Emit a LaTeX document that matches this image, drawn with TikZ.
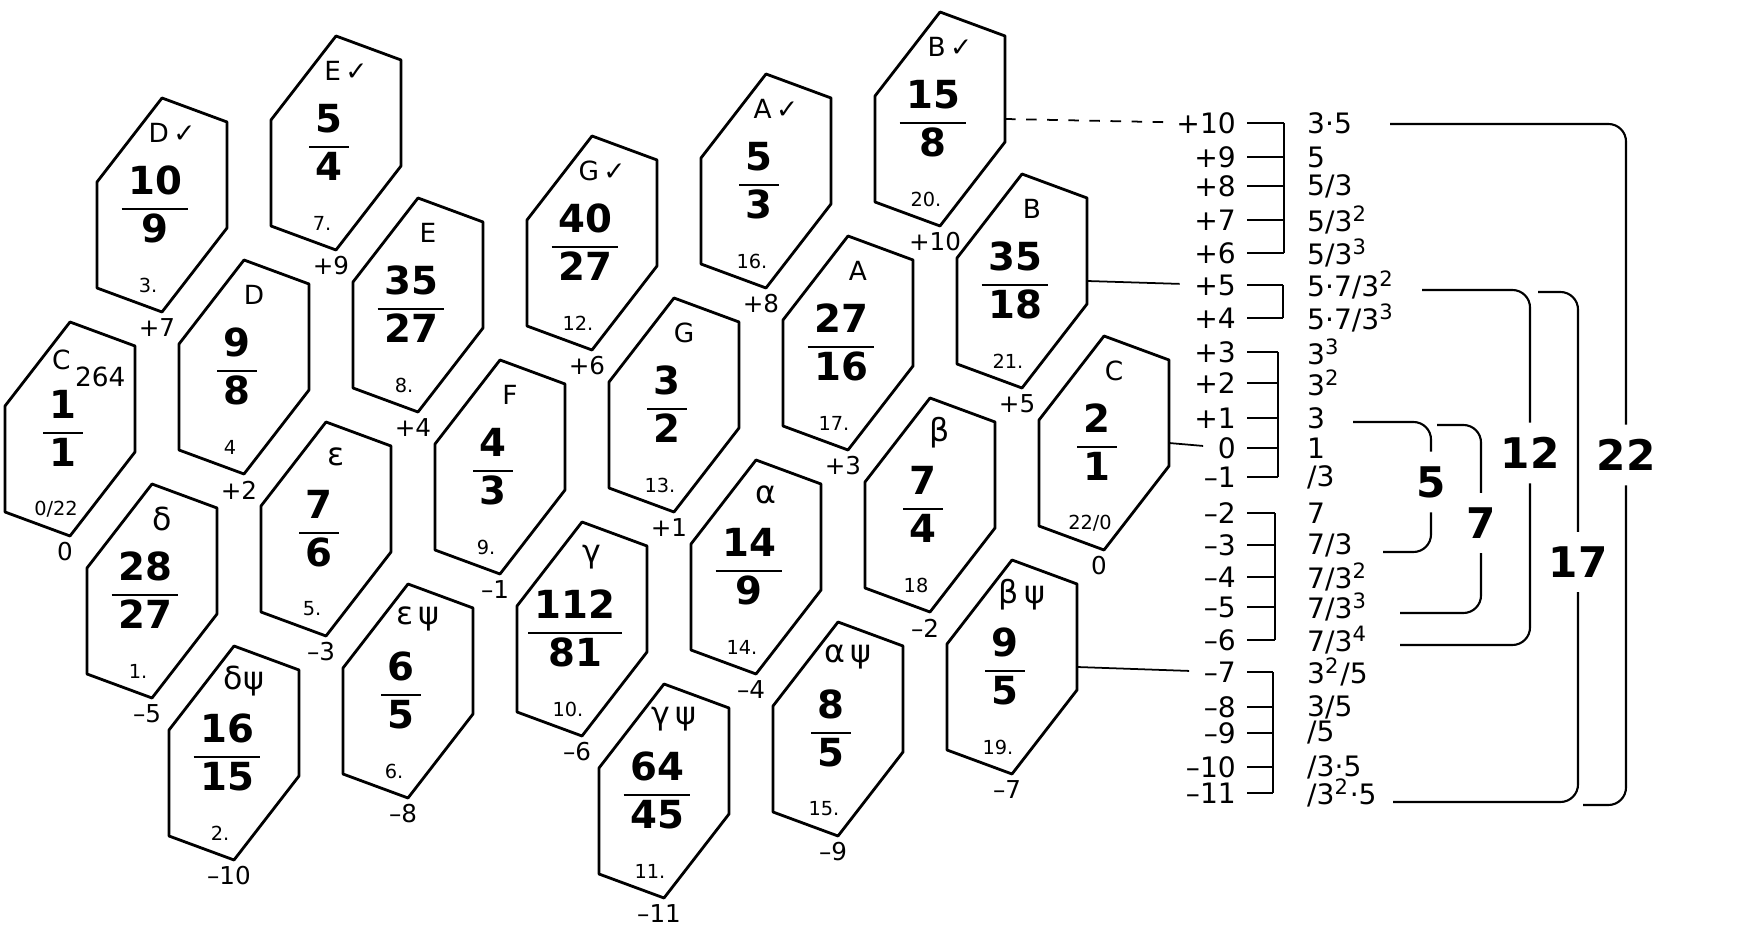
\documentclass[tikz,border=0pt]{standalone}
\usepackage{amsmath}
\usepackage{fontspec}
\setmainfont{DejaVu Sans}
\usepackage{tikz}
\setlength{\arrayrulewidth}{0.6pt}

\begin{document}
\begin{tikzpicture}[x=0.01cm, y=-0.01cm, line join=round,
    cell/.style={line width=0.8pt},
    toplab/.style={font=\fontsize{7.5}{8}\selectfont, inner sep=1pt},
    ratio/.style={font=\fontsize{11}{13}\selectfont\bfseries, inner sep=0pt},
    idxlab/.style={font=\fontsize{5.5}{6}\selectfont, inner sep=1pt},
    ticklab/.style={font=\fontsize{7}{8}\selectfont, inner sep=1pt},
    rowlab/.style={font=\fontsize{8}{9}\selectfont, inner sep=1pt},
    stub/.style={line width=0.6pt},
    leader/.style={line width=0.5pt},
    bigcount/.style={font=\fontsize{12}{14}\selectfont\bfseries, inner sep=4pt},
    brk/.style={line width=0.6pt, rounded corners=5pt}]
	\useasboundingbox (0,0) rectangle (1749,925);
	% the hexagon cells: number/column/row/name/ratio/index/step
	\foreach \hk/\col/\row/\lab/\num/\den/\idx/\tk in {
	    0/0/0/{\hspace{5pt}\rule{0pt}{12pt}C\,\raisebox{-5pt}{264}}/1/1/{0/22}/0,
	    1/0/1/{\fontsize{9}{10}\selectfont δ}/28/27/1./--5,
	    2/0/2/{\fontsize{9}{10}\selectfont δψ}/16/15/2./--10,
	    3/1/-1/{D\,✓}/10/9/3./+7,
	    4/1/0/D/9/8/4/+2,
	    5/1/1/{\fontsize{9}{10}\selectfont ε}/7/6/5./--3,
	    6/1/2/{\fontsize{9}{10}\selectfont ε\,ψ}/6/5/6./--8,
	    7/2/-1/{E\,✓}/5/4/7./+9,
	    8/2/0/E/35/27/8./+4,
	    9/2/1/F/4/3/9./--1,
	    10/2/2/{\fontsize{9}{10}\selectfont γ}/112/81/10./--6,
	    11/2/3/{\fontsize{9}{10}\selectfont γ\,ψ}/64/45/11./--11,
	    12/3/0/{G\,✓}/40/27/12./+6,
	    13/3/1/G/3/2/13./+1,
	    14/3/2/{\fontsize{9}{10}\selectfont α}/14/9/14./--4,
	    15/3/3/{\fontsize{9}{10}\selectfont α\,ψ}/8/5/15./--9,
	    16/4/0/{A\,✓}/5/3/16./+8,
	    17/4/1/A/27/16/17./+3,
	    18/4/2/{\fontsize{9}{10}\selectfont β}/7/4/18/--2,
	    19/4/3/{\fontsize{9}{10}\selectfont β\,ψ}/9/5/19./--7,
	    20/5/0/{B\,✓}/15/8/20./+10,
	    21/5/1/B/35/18/21./+5,
	    22/5/2/C/2/1/{22/0}/0}{
		\coordinate (h\hk) at ({70+174*\col+82*\row},{429-62*\col+162*\row});
		\draw[cell] (h\hk) ++(0,-107) -- ++(65,24) -- ++(0,106) -- ++(-65,84) -- ++(-65,-24) -- ++(0,-106) -- cycle;
		\node[toplab] (t\hk) at ([shift={(10,-72)}]h\hk) {\lab};
		\node[ratio] (f\hk) at ([shift={(-7,4)}]h\hk) {\begin{tabular}{@{\,}c@{\,}}\num\\\hline\den\end{tabular}};
		\node[idxlab] (n\hk) at ([shift={(-14,80)}]h\hk) {\idx};
		\node[ticklab] (d\hk) at ([shift={(-5,123)}]h\hk) {\tk};
		\coordinate (e\hk) at ([shift={(65,0)}]h\hk);
	}
	% the table of steps and factors
	\foreach \rk/\ry/\rt/\rx/\bx in {
	    0/123/+10/3·5/1284, 1/157/+9/5/1284, 2/186/+8/{5/3}/1284,
	    3/220/+7/{5/3\textsuperscript{2}}/1284, 4/253/+6/{5/3\textsuperscript{3}}/1284,
	    5/285/+5/{5·7/3\textsuperscript{2}}/1283, 6/318/+4/{5·7/3\textsuperscript{3}}/1283,
	    7/352/+3/{3\textsuperscript{3}}/1278, 8/383/+2/{3\textsuperscript{2}}/1278,
	    9/418/+1/3/1278, 10/448/0/1/1278, 11/477/--1/{/3}/1278,
	    12/513/--2/7/1275, 13/545/--3/{7/3}/1275, 14/577/--4/{7/3\textsuperscript{2}}/1275,
	    15/607/--5/{7/3\textsuperscript{3}}/1275, 16/640/--6/{7/3\textsuperscript{4}}/1275,
	    17/672/--7/{3\textsuperscript{2}/5}/1273, 18/707/--8/{3/5}/1273, 19/733/--9/{/5}/1273,
	    20/767/--10/{/3·5}/1273, 21/793/--11/{/3\textsuperscript{2}·5}/1273}{
		\node[rowlab, anchor=east] (r\rk) at (1240,\ry) {\rt};
		\node[rowlab, anchor=west] (x\rk) at (1303,\ry) {\rx};
		\coordinate (b\rk) at (\bx,\ry);
		\draw[stub, shorten <=2pt] (r\rk) -- (b\rk);
	}
	\draw[stub] (b0) -- (b4);
	\draw[stub] (b5) -- (b6);
	\draw[stub] (b7) -- (b11);
	\draw[stub] (b12) -- (b16);
	\draw[stub] (b17) -- (b21);
	% cells tied to the table
	\draw[leader, dashed, shorten >=2pt] (e20) -- (r0);
	\draw[leader, shorten >=3pt] (e21) -- (r5);
	\draw[leader, shorten >=3pt] (e22) -- (r10);
	\draw[leader, shorten >=3pt] (e19) -- (r17);
	% counting brackets
	\node[bigcount] (g5) at (1431,482) {5};
	\node[bigcount] (g7) at (1481,523) {7};
	\node[bigcount] (g12) at (1530,453) {12};
	\node[bigcount] (g17) at (1578,562) {17};
	\node[bigcount] (g22) at (1626,455) {22};
	\coordinate (a5) at (1353,422);  \coordinate (z5) at (1383,552);
	\coordinate (a7) at (1437,425);  \coordinate (z7) at (1400,613);
	\coordinate (a12) at (1422,290); \coordinate (z12) at (1400,645);
	\coordinate (a17) at (1538,292); \coordinate (z17) at (1393,802);
	\coordinate (a22) at (1390,124); \coordinate (z22) at (1583,805);
	\foreach \c in {5,7,12,17,22}{
		\draw[brk] (a\c) -| (g\c);
		\draw[brk] (g\c) |- (z\c);
	}
\end{tikzpicture}
\end{document}
